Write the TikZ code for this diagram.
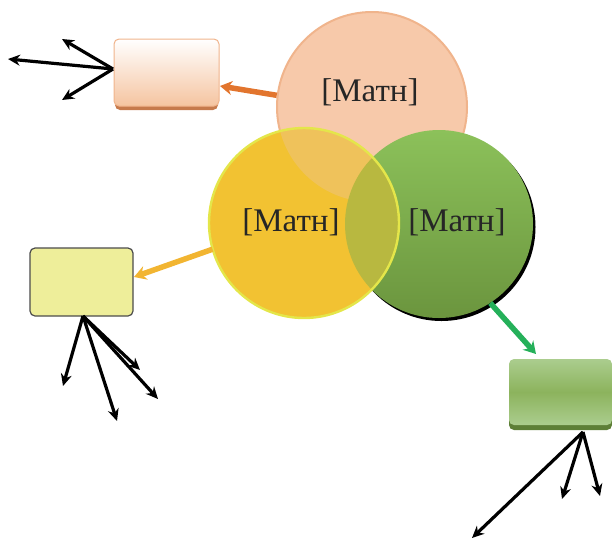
\documentclass[tikz,border=0pt]{standalone}
\usepackage{fontspec}
\setmainfont{Liberation Serif}
\usetikzlibrary{arrows.meta,calc}
\definecolor{peachfill}{HTML}{F7C9AA}
\definecolor{peachline}{HTML}{F0B48C}
\definecolor{yelfill}{HTML}{F2C232}
\definecolor{yelline}{HTML}{E4E64A}
\definecolor{greentop}{HTML}{8CC15A}
\definecolor{greenbot}{HTML}{6B953E}
\definecolor{pyover}{HTML}{EFC25B}
\definecolor{ygover}{HTML}{B8B840}
\definecolor{txt}{HTML}{262626}
\definecolor{orangearr}{HTML}{E2752E}
\definecolor{yelarr}{HTML}{F2B531}
\definecolor{greenarr}{HTML}{25B05A}
\definecolor{pboxbot}{HTML}{F5C4A0}
\definecolor{pboxshadow}{HTML}{C67A4C}
\definecolor{yboxfill}{HTML}{EEEE9A}
\definecolor{gboxlight}{HTML}{ABCD8E}
\definecolor{gboxmid}{HTML}{8CB35D}
\definecolor{gboxshadow}{HTML}{5D7F37}
\tikzset{
  venn/.style={circle,minimum size=190pt,inner sep=0pt},
  label text/.style={font=\fontsize{33}{38}\selectfont,text=txt,inner sep=0pt},
  blackarr/.style={draw=black,line width=3.2pt,-{Stealth[length=12pt,width=11pt]}},
  colarr/.style={line width=5.5pt,-{Stealth[length=12pt,width=14pt]}},
  boxbase/.style={rounded corners=5pt,minimum width=103pt,minimum height=68pt,inner sep=0pt}
}
\begin{document}
\begin{tikzpicture}[x=1pt,y=-1pt]
\useasboundingbox (0,0) rectangle (612,539);
% circles
\node[venn,fill=peachfill,draw=peachline,line width=2pt] (pc) at (372,107) {};
\fill[black] (441.5,227) circle (94);
\node[venn,minimum size=188pt,top color=greentop,bottom color=greenbot] (gc) at (439,224) {};
\node[venn,fill=yelfill] (yc) at (304,223) {};
\begin{scope}
  \clip (372,107) circle (95);
  \fill[pyover] (304,223) circle (95);
\end{scope}
\begin{scope}
  \clip (439,224) circle (94);
  \fill[ygover] (304,223) circle (95);
\end{scope}
\draw[yelline,line width=2.4pt] (304,223) circle (95);
% texts
\node[label text] (pt) at (370,92) {[Матн]};
\node[label text] (yt) at (291,222) {[Матн]};
\node[label text] (gt) at (457,222) {[Матн]};
% boxes
\node[boxbase,fill=pboxshadow] (pboxs) at (166.5,76) {};
\node[boxbase,minimum width=105pt,minimum height=67pt,top color=white,bottom color=pboxbot,draw=peachline,line width=1pt] (pbox) at (166.5,72.5) {};
\node[boxbase,fill=yboxfill,draw=black!70,line width=1.2pt] (ybox) at (81.5,282) {};
\node[boxbase,fill=gboxshadow] (gboxs) at (560.5,396) {};
\node[boxbase,minimum height=66pt,top color=gboxlight,bottom color=gboxlight,middle color=gboxmid] (gbox) at (560.5,392) {};
% coloured arrows
\coordinate (pend) at (220,86);
\coordinate (yend) at (134,277);
\coordinate (gend) at (536,354);
\draw[colarr,draw=orangearr,fill=orangearr] (pc.173) -- (pend);
\draw[colarr,draw=yelarr,fill=yelarr] (yc.196) -- (yend);
\draw[colarr,draw=greenarr,fill=greenarr] (gc.-57) -- (gend);
% black arrows
\coordinate (po) at (113,69);
\coordinate (p1) at (8,59);
\coordinate (p2) at (62,39);
\coordinate (p3) at (62,100);
\draw[blackarr] (po) -- (p1);
\draw[blackarr] (po) -- (p2);
\draw[blackarr] (po) -- (p3);
\coordinate (yo) at (83,316);
\coordinate (y1) at (63,386);
\coordinate (y2) at (117,421);
\coordinate (y3) at (158,399);
\coordinate (y4) at (140,370);
\draw[blackarr] (yo) -- (y1);
\draw[blackarr] (yo) -- (y2);
\draw[blackarr] (yo) -- (y3);
\draw[blackarr] (yo) -- (y4);
\coordinate (go) at (583,432);
\coordinate (g1) at (472,538);
\coordinate (g2) at (562,499);
\coordinate (g3) at (600,496);
\draw[blackarr] (go) -- (g1);
\draw[blackarr] (go) -- (g2);
\draw[blackarr] (go) -- (g3);
\end{tikzpicture}
\end{document}
